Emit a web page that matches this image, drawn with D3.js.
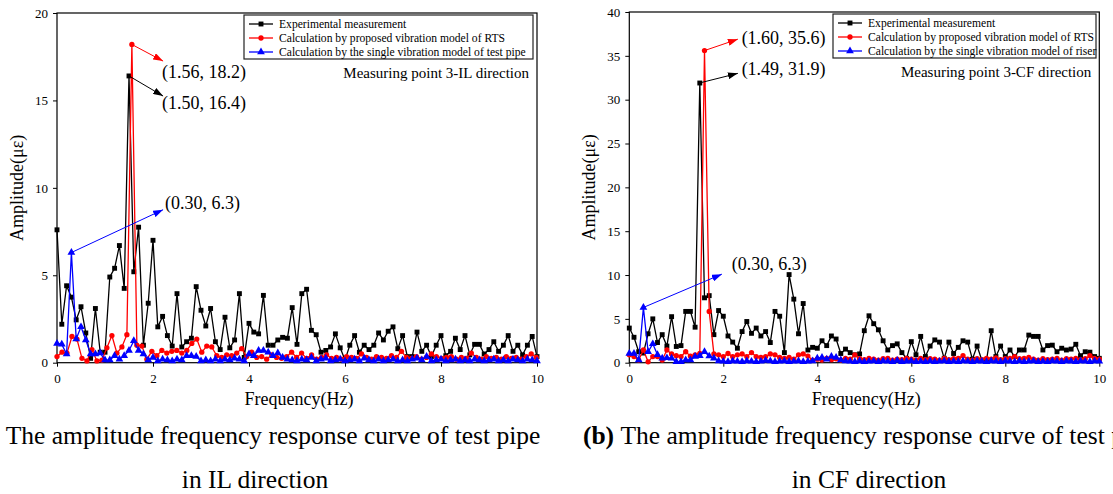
<!DOCTYPE html>
<html lang="en">
<head>
<meta charset="utf-8">
<title>Amplitude frequency response curves</title>
<script src="https://d3js.org/d3.v7.min.js"></script>
<style>
body { margin: 0; background: #fff; }
svg text { font-family: "Liberation Serif", "Times New Roman", serif; fill: #000; }
</style>
</head>
<body>
<script>

// frequency spacing of each series (Hz)
var stepExpIL = 0.1, stepRtsIL = 0.104, stepPipeIL = 0.1;
var stepExpCF = 0.1, stepRtsCF = 0.1, stepPipeCF = 0.1;

// (a) IL direction, amplitude in micro-strain
var expIL = [7.6, 2.2, 4.4, 3.75, 2.45, 3.2, 1.7, 0.25, 3.1, 0.6,
  0.6, 4.9, 5.4, 6.7, 4.25, 16.4, 5.2, 7.75, 1.0, 3.4,
  7.0, 2.05, 2.65, 1.55, 0.95, 3.95, 0.9, 1.2, 1.4, 4.35,
  3.0, 2.1, 3.1, 1.2, 0.75, 2.6, 0.85, 1.3, 3.95, 0.3,
  2.25, 1.75, 1.65, 3.85, 1.0, 1.0, 1.3, 1.45, 1.4, 3.15,
  1.05, 3.95, 4.2, 1.85, 1.6, 0.6, 0.7, 0.9, 1.65, 0.85,
  0.15, 1.0, 1.55, 0.6, 1.0, 0.75, 1.0, 1.7, 1.3, 1.8,
  2.05, 0.8, 1.55, 0.35, 0.35, 1.75, 0.65, 1.0, 0.35, 1.0,
  1.55, 0.4, 0.65, 1.4, 0.75, 1.55, 0.45, 1.05, 1.05, 0.5,
  0.75, 1.2, 0.65, 1.0, 1.55, 0.65, 1.0, 0.45, 1.0, 1.5,
  0.35];
var rtsIL = [0.35, 0.6, 0.55, 1.5, 1.35, 0.25, 0.1, 0.75, 0.1, 0.15,
  0.85, 1.55, 0.55, 0.9, 1.6, 18.2, 1.0, 0.95, 0.2, 0.65,
  0.4, 0.7, 0.55, 0.65, 0.7, 0.55, 0.7, 1.1, 1.35, 0.6,
  0.95, 0.9, 0.4, 0.3, 0.45, 0.4, 0.55, 0.8, 0.35, 0.6,
  0.3, 0.35, 0.2, 0.45, 0.3, 0.25, 0.35, 0.6, 0.3, 0.55,
  0.25, 0.45, 0.2, 0.3, 0.45, 0.25, 0.3, 0.2, 0.35, 0.3,
  0.25, 0.5, 0.3, 0.2, 0.35, 0.3, 0.25, 0.4, 0.3, 0.65,
  0.3, 0.25, 0.35, 0.2, 0.3, 0.5, 0.35, 0.25, 0.3, 0.35,
  0.2, 0.3, 0.25, 0.55, 0.3, 0.2, 0.35, 0.25, 0.3, 0.2,
  0.35, 0.25, 0.3, 0.2, 0.35, 0.5, 0.3];
var pipeIL = [1.1, 1.05, 0.5, 6.3, 1.35, 2.05, 1.3, 0.5, 0.5, 0.55,
  0.15, 0.15, 0.4, 0.2, 0.4, 0.7, 1.25, 0.7, 0.5, 0.15,
  0.3, 0.1, 0.2, 0.15, 0.1, 0.2, 0.15, 0.4, 0.4, 0.35,
  0.1, 0.15, 0.1, 0.2, 0.1, 0.2, 0.15, 0.25, 0.2, 0.1,
  0.5, 0.4, 0.7, 0.7, 0.6, 0.4, 0.55, 0.3, 0.2, 0.15,
  0.1, 0.2, 0.15, 0.3, 0.1, 0.2, 0.25, 0.1, 0.15, 0.2,
  0.1, 0.15, 0.2, 0.1, 0.25, 0.15, 0.1, 0.2, 0.1, 0.15,
  0.2, 0.1, 0.15, 0.1, 0.2, 0.25, 0.15, 0.35, 0.1, 0.15,
  0.2, 0.1, 0.15, 0.2, 0.1, 0.15, 0.1, 0.2, 0.15, 0.1,
  0.15, 0.2, 0.1, 0.15, 0.1, 0.2, 0.15, 0.1, 0.2, 0.15, 0.1];

// (b) CF direction
var expCF = [3.95, 2.9, 1.25, 1.1, 3.3, 5.0, 2.3, 3.2, 1.9, 5.25,
  1.85, 1.95, 5.85, 5.85, 4.05, 31.9, 7.4, 7.65, 3.2, 5.95,
  5.3, 3.05, 2.35, 1.65, 3.55, 4.7, 3.35, 3.95, 3.05, 3.55,
  2.3, 5.85, 5.3, 1.15, 10.05, 7.25, 3.3, 6.75, 1.45, 1.75,
  1.65, 2.5, 1.95, 3.05, 2.7, 1.05, 1.55, 1.15, 0.9, 1.0,
  3.65, 5.35, 4.45, 3.75, 2.5, 1.45, 1.95, 2.15, 1.15, 0.5,
  2.4, 0.9, 3.0, 0.7, 1.9, 2.6, 2.35, 0.5, 2.35, 1.05,
  1.75, 2.5, 2.35, 0.4, 1.9, 0.3, 0.3, 3.65, 0.7, 1.9,
  0.7, 1.45, 0.7, 1.45, 1.45, 3.15, 3.0, 3.0, 1.45, 1.95,
  2.0, 1.25, 1.65, 1.45, 1.55, 2.1, 0.8, 1.25, 1.2, 0.7, 0.5];
var rtsCF = [0.9, 0.7, 0.3, 1.45, 0.1, 0.7, 0.7, 0.3, 1.45, 1.0,
  0.8, 0.7, 1.25, 0.75, 0.9, 1.05, 35.6, 5.85, 1.0, 0.9,
  0.7, 1.05, 0.7, 0.9, 1.0, 0.7, 1.15, 0.7, 0.6, 0.7,
  1.0, 0.9, 0.6, 0.5, 0.6, 0.4, 0.9, 1.0, 0.75, 0.3,
  0.4, 0.3, 0.5, 0.35, 0.45, 0.3, 0.5, 0.4, 0.9, 0.45,
  0.35, 0.5, 0.4, 0.3, 0.45, 0.5, 0.3, 0.4, 0.35, 0.5,
  0.4, 0.3, 0.5, 0.35, 0.45, 0.4, 0.3, 0.5, 0.35, 0.45,
  0.5, 0.8, 0.4, 0.3, 0.45, 0.35, 0.5, 0.4, 0.55, 0.35,
  0.45, 0.5, 0.7, 0.45, 0.5, 0.6, 0.4, 0.3, 0.45, 0.35,
  0.4, 0.5, 0.3, 0.45, 0.4, 0.5, 0.35, 0.45, 0.8, 0.5, 0.4];
var riserCF = [1.05, 1.05, 0.3, 6.3, 1.25, 2.15, 0.9, 0.5, 0.55, 0.5,
  0.1, 0.1, 0.3, 0.3, 0.7, 0.8, 1.25, 0.75, 0.5, 0.2,
  0.15, 0.1, 0.2, 0.15, 0.1, 0.2, 0.15, 0.1, 0.15, 0.25,
  0.2, 0.1, 0.15, 0.2, 0.1, 0.15, 0.2, 0.1, 0.15, 0.2,
  0.5, 0.6, 0.4, 0.7, 0.6, 0.3, 0.2, 0.15, 0.1, 0.2,
  0.1, 0.15, 0.2, 0.1, 0.2, 0.15, 0.1, 0.25, 0.1, 0.15,
  0.2, 0.1, 0.15, 0.1, 0.2, 0.1, 0.15, 0.2, 0.1, 0.15,
  0.1, 0.2, 0.15, 0.1, 0.2, 0.15, 0.1, 0.2, 0.15, 0.1,
  0.2, 0.15, 0.1, 0.2, 0.1, 0.15, 0.2, 0.1, 0.15, 0.1,
  0.2, 0.15, 0.1, 0.2, 0.15, 0.1, 0.2, 0.15, 0.1, 0.2, 0.15];

var xTicks = [0, 2, 4, 6, 8, 10];
var yTicksIL = [0, 5, 10, 15, 20];
var yTicksCF = [0, 5, 10, 15, 20, 25, 30, 35, 40];

var legendIL = ["Experimental measurement", "Calculation by proposed vibration model of RTS",
  "Calculation by the single vibration model of test pipe"];
var legendCF = ["Experimental measurement", "Calculation by proposed vibration model of RTS",
  "Calculation by the single vibration model of riser"];

var W = 1113, H = 494;
var colors = ["#000000", "#ff0000", "#0000ff"];
var shapes = [d3.symbolSquare, d3.symbolCircle, d3.symbolTriangle];
var sizes = [24, 22, 26];

var svg = d3.select("body").append("svg")
  .attr("width", W).attr("height", H);

var defs = svg.append("defs");
colors.forEach(function(c, i) {
  defs.append("marker")
    .attr("id", "arrow" + i)
    .attr("markerUnits", "userSpaceOnUse")
    .attr("markerWidth", 10).attr("markerHeight", 7)
    .attr("refX", 10).attr("refY", 3.5)
    .attr("orient", "auto")
    .append("path").attr("d", "M0,0 L10,3.5 L0,7 z").attr("fill", c);
});

function toPoints(vals, step) {
  return vals.map(function(v, i) { return [i * step, v]; });
}

function drawPanel(p) {
  var x = d3.scaleLinear().domain([0, 10]).range([p.left, p.right]);
  var y = d3.scaleLinear().domain([0, p.ymax]).range([p.bottom, p.top]);
  var g = svg.append("g");

  // axes
  g.append("g").attr("transform", "translate(0," + p.bottom + ")")
    .call(d3.axisBottom(x).tickValues(xTicks).tickSize(4).tickPadding(7).tickSizeOuter(0))
    .call(function(a) { a.select(".domain").remove(); a.selectAll("text").style("font-size", "13px").style("font-family", "Liberation Serif"); });
  g.append("g").attr("transform", "translate(" + p.left + ",0)")
    .call(d3.axisLeft(y).tickValues(p.yTicks).tickSize(4).tickPadding(5).tickSizeOuter(0))
    .call(function(a) { a.select(".domain").remove(); a.selectAll("text").style("font-size", "13px").style("font-family", "Liberation Serif"); });

  g.append("rect")
    .attr("x", p.left).attr("y", p.top)
    .attr("width", p.right - p.left).attr("height", p.bottom - p.top)
    .attr("fill", "none").attr("stroke", "#000").attr("stroke-width", 1.2);

  // series
  var line = d3.line().x(function(d) { return x(d[0]); }).y(function(d) { return y(d[1]); });
  p.series.forEach(function(s, i) {
    var pts = toPoints(s.vals, s.step);
    g.append("path").datum(pts).attr("d", line)
      .attr("fill", "none").attr("stroke", colors[i]).attr("stroke-width", 1.3);
    g.append("g").selectAll("path").data(pts).enter().append("path")
      .attr("d", d3.symbol().type(shapes[i]).size(sizes[i]))
      .attr("transform", function(d) { return "translate(" + x(d[0]) + "," + y(d[1]) + ")"; })
      .attr("fill", colors[i]);
  });

  // peak annotations
  p.notes.forEach(function(n) {
    g.append("line")
      .attr("x1", x(n.px)).attr("y1", y(n.py))
      .attr("x2", x(n.ax)).attr("y2", y(n.ay))
      .attr("stroke", colors[n.s]).attr("stroke-width", 1)
      .attr("marker-end", "url(#arrow" + n.s + ")");
    g.append("text").attr("x", x(n.tx)).attr("y", y(n.ty))
      .style("font-size", "18px").text(n.label);
  });

  // legend
  var lg = g.append("g").attr("transform", "translate(" + p.legend.x + "," + p.legend.y + ")");
  lg.append("rect").attr("width", p.legend.w).attr("height", 44)
    .attr("fill", "#fff").attr("stroke", "#222").attr("stroke-width", 1.2);
  p.legend.items.forEach(function(t, i) {
    var yy = 9 + i * 14;
    lg.append("line").attr("x1", 5).attr("x2", 29).attr("y1", yy).attr("y2", yy)
      .attr("stroke", colors[i]).attr("stroke-width", 1.3);
    lg.append("path").attr("d", d3.symbol().type(shapes[i]).size(sizes[i]))
      .attr("transform", "translate(17," + yy + ")").attr("fill", colors[i]);
    lg.append("text").attr("x", 35).attr("y", yy).attr("dy", "0.33em")
      .style("font-size", "11.6px").text(t);
  });

  g.append("text").attr("x", p.right - 8).attr("y", p.top + 65)
    .attr("text-anchor", "end").style("font-size", "15px").text(p.point);

  // axis titles
  g.append("text")
    .attr("transform", "translate(" + (p.left - 34) + "," + ((p.top + p.bottom) / 2) + ") rotate(-90)")
    .attr("text-anchor", "middle").style("font-size", "18px").text("Amplitude(με)");
  g.append("text").attr("x", (p.left + p.right) / 2 + 2).attr("y", 405)
    .attr("text-anchor", "middle").style("font-size", "18px").text("Frequency(Hz)");

  // caption
  var cap = g.append("text").attr("x", p.capX).attr("y", 444)
    .attr("text-anchor", "middle").style("font-size", "25.5px");
  cap.append("tspan").style("font-weight", "bold").text(p.tag + " ");
  cap.append("tspan").text("The amplitude frequency response curve of test pipe");
  g.append("text").attr("x", p.capX).attr("y", 488)
    .attr("text-anchor", "middle").style("font-size", "25.5px").text(p.capLine2);
}

drawPanel({
  left: 57, right: 537, top: 13, bottom: 362.7, ymax: 20, yTicks: yTicksIL,
  series: [{vals: expIL, step: stepExpIL}, {vals: rtsIL, step: stepRtsIL}, {vals: pipeIL, step: stepPipeIL}],
  notes: [
    {s: 1, px: 1.56, py: 18.2, ax: 2.21, ay: 17.25, tx: 2.19, ty: 16.3, label: "(1.56, 18.2)"},
    {s: 0, px: 1.50, py: 16.4, ax: 2.21, ay: 15.25, tx: 2.19, ty: 14.5, label: "(1.50, 16.4)"},
    {s: 2, px: 0.30, py: 6.3, ax: 2.21, ay: 8.75, tx: 2.25, ty: 8.8, label: "(0.30, 6.3)"}
  ],
  legend: {x: 244, y: 15, w: 289, items: legendIL},
  point: "Measuring point 3-IL direction",
  tag: "(a)", capX: 255, capLine2: "in IL direction"
});

drawPanel({
  left: 629.3, right: 1099.3, top: 12, bottom: 362.7, ymax: 40, yTicks: yTicksCF,
  series: [{vals: expCF, step: stepExpCF}, {vals: rtsCF, step: stepRtsCF}, {vals: riserCF, step: stepPipeCF}],
  notes: [
    {s: 1, px: 1.60, py: 35.6, ax: 2.31, ay: 36.9, tx: 2.39, ty: 36.4, label: "(1.60, 35.6)"},
    {s: 0, px: 1.49, py: 31.9, ax: 2.31, ay: 33.0, tx: 2.39, ty: 32.8, label: "(1.49, 31.9)"},
    {s: 2, px: 0.30, py: 6.3, ax: 1.97, ay: 10.1, tx: 2.18, ty: 10.6, label: "(0.30, 6.3)"}
  ],
  legend: {x: 833, y: 14, w: 263, items: legendCF},
  point: "Measuring point 3-CF direction",
  tag: "(b)", capX: 869, capLine2: "in CF direction"
});

</script>
</body>
</html>
